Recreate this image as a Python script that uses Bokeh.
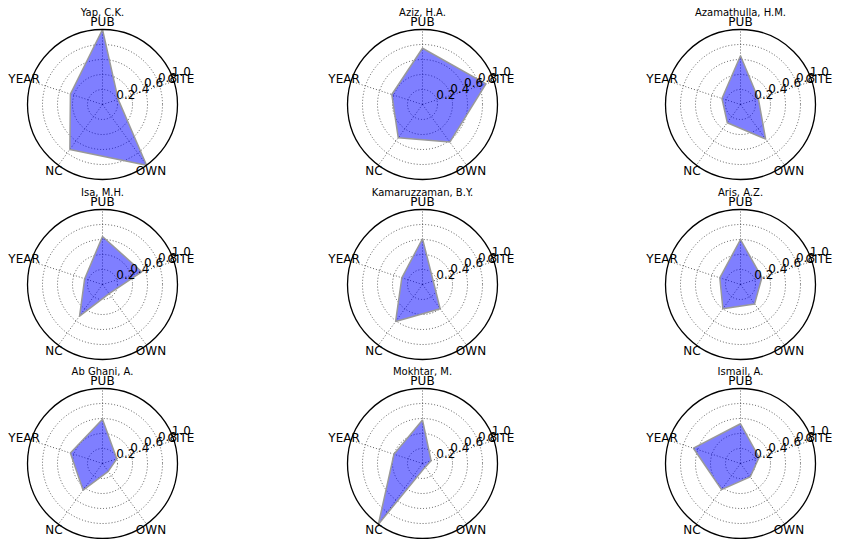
import numpy as np
from bokeh.plotting import figure
from bokeh.models import Range1d
from bokeh.core.properties import value
from bokeh.embed import file_html
from bokeh.resources import INLINE

# ---- data ----
authors = ["Yap, C.K.", "Aziz, H.A.", "Azamathulla, H.M.",
           "Isa, M.H.", "Kamaruzzaman, B.Y.", "Aris, A.Z.",
           "Ab Ghani, A.", "Mokhtar, M.", "Ismail, A."]
PUB = [1.00, 0.75, 0.65, 0.64, 0.61, 0.60, 0.59, 0.58, 0.53]
CITE = [0.22, 0.89, 0.25, 0.55, 0.15, 0.30, 0.20, 0.12, 0.26]
OWN = [1.00, 0.62, 0.57, 0.15, 0.40, 0.32, 0.13, 0.06, 0.22]
NC = [0.74, 0.55, 0.30, 0.52, 0.61, 0.40, 0.44, 1.00, 0.43]
YEAR = [0.45, 0.43, 0.26, 0.25, 0.29, 0.29, 0.45, 0.40, 0.66]
axis_names = ["PUB", "CITE", "OWN", "NC", "YEAR"]
r_ticks = [0.2, 0.4, 0.6, 0.8, 1.0]
r_tick_labels = ["0.2", "0.4", "0.6", "0.8", "1.0"]

# ---- layout (pixels) ----
W, H = 836, 539
col_x = [102, 422, 740]
row_y = [104, 284, 463]
R = 75.0
FONT = value("DejaVu Sans")

theta = np.deg2rad(90 - 72 * np.arange(5))
tick_theta = np.deg2rad(22.5)

p = figure(width=W, height=H, x_range=Range1d(0, W), y_range=Range1d(H, 0),
           output_backend="svg", toolbar_location=None,
           x_axis_location=None, y_axis_location=None, min_border=0)
p.outline_line_color = None
p.grid.visible = False
p.background_fill_color = "white"

series = list(zip(PUB, CITE, OWN, NC, YEAR))

gx, gy, gr = [], [], []
sx0, sy0, sx1, sy1 = [], [], [], []
oxs, oys, ors = [], [], []
pxs, pys = [], []
lx, ly, lt = [], [], []
tx, ty, tt = [], [], []
kx, ky, kt = [], [], []

for i, name in enumerate(authors):
    cx = col_x[i % 3]
    cy = row_y[i // 3]
    for r in r_ticks[:-1]:
        gx.append(cx); gy.append(cy); gr.append(r * R)
    oxs.append(cx); oys.append(cy); ors.append(R)
    for a in theta:
        sx0.append(cx); sy0.append(cy)
        sx1.append(cx + R * np.cos(a)); sy1.append(cy - R * np.sin(a))
    vals = np.array(series[i])
    pxs.append(list(cx + vals * R * np.cos(theta)))
    pys.append(list(cy - vals * R * np.sin(theta)))
    for a, lab in zip(theta, axis_names):
        lx.append(cx + 1.1 * R * np.cos(a)); ly.append(cy - 1.1 * R * np.sin(a)); lt.append(lab)
    for r, lab in zip(r_ticks, r_tick_labels):
        kx.append(cx + r * R * np.cos(tick_theta)); ky.append(cy - r * R * np.sin(tick_theta)); kt.append(lab)
    tx.append(cx); ty.append(cy - 92); tt.append(name)

p.circle(x=gx, y=gy, radius=gr, fill_color=None, line_color="black",
         line_dash="1 2", line_width=0.8, line_alpha=0.8)
p.segment(x0=sx0, y0=sy0, x1=sx1, y1=sy1, line_color="black",
          line_dash="1 2", line_width=0.8, line_alpha=0.8)
p.patches(xs=pxs, ys=pys, fill_color="blue", fill_alpha=0.5,
          line_color="#999999", line_width=1.5)
p.circle(x=oxs, y=oys, radius=ors, fill_color=None, line_color="black", line_width=1.3)

p.text(x=kx, y=ky, text=kt, text_align="left", text_baseline="bottom",
       text_font=FONT, text_font_size="12px", text_color="black")
p.text(x=lx, y=ly, text=lt, text_align="center", text_baseline="middle",
       text_font=FONT, text_font_size="12px", text_color="black")
p.text(x=tx, y=ty, text=tt, text_align="center", text_baseline="middle",
       text_font=FONT, text_font_size="10px", text_color="black")

open("out.html", "w").write(file_html(p, INLINE))
